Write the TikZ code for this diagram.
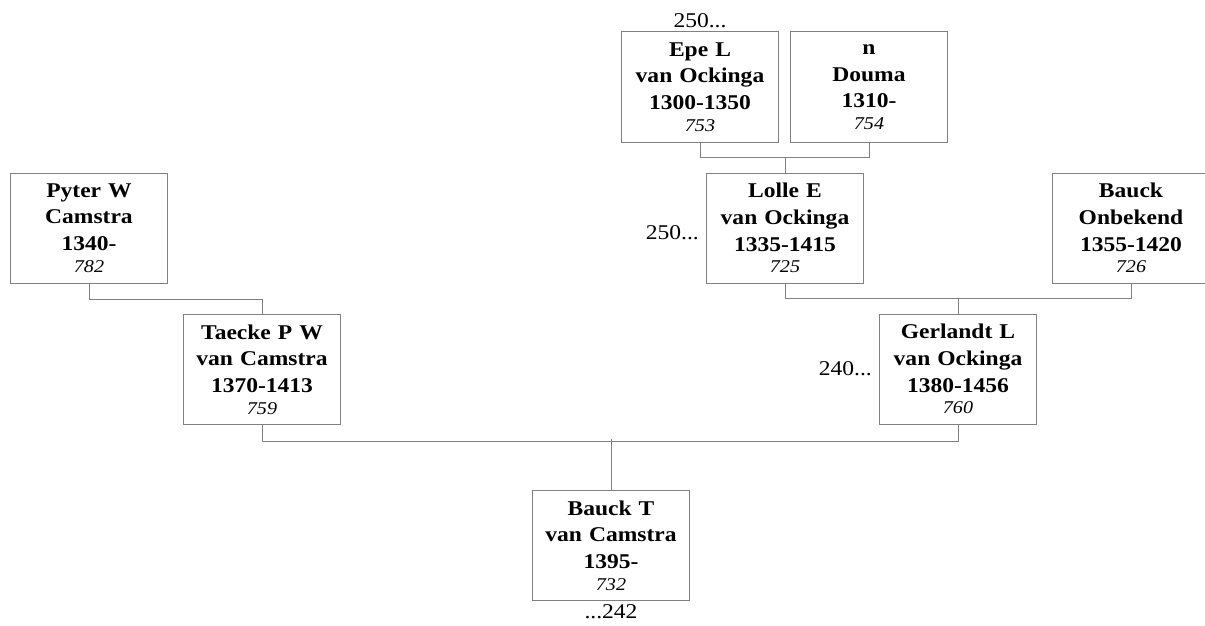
\documentclass[tikz,border=0pt]{standalone}
\usepackage{fontspec}
\setmainfont[FakeStretch=1.12]{Liberation Serif}
\usetikzlibrary{positioning}
\definecolor{LineGray}{RGB}{128,128,128}
\tikzset{
  person/.style={draw=LineGray,line width=1pt,fill=white,minimum width=157pt,
    minimum height=110pt,text width=155pt,align=center,inner sep=0pt,
    font=\fontsize{21}{26.7}\selectfont\bfseries},
  link/.style={draw=LineGray,line width=1pt},
  more/.style={font=\fontsize{21}{24}\selectfont,inner sep=0pt}
}
\newcommand{\pnum}[1]{\\[-5pt]{\fontsize{18}{21}\selectfont\mdseries\itshape #1}}

\begin{document}
\begin{tikzpicture}[x=1pt,y=-1pt]
  \useasboundingbox (0,0) rectangle (1205,626);
  % oldest generation
  \node[person] (epe) at (700,87) {Epe L\\van Ockinga\\1300-1350\pnum{753}};
  \node[person] (douma) at (869,87) {n\\Douma\\1310-\pnum{754}};
  % parents' generation
  \node[person] (pyter) at (89,228) {Pyter W\\Camstra\\1340-\pnum{782}};
  \node[person] (lolle) at (785,228) {Lolle E\\van Ockinga\\1335-1415\pnum{725}};
  \node[person] (onbekend) at (1131,228) {Bauck\\Onbekend\\1355-1420\pnum{726}};
  % parents
  \node[person] (taecke) at (262,369.5) {Taecke P W\\van Camstra\\1370-1413\pnum{759}};
  \node[person] (gerlandt) at (958,369) {Gerlandt L\\van Ockinga\\1380-1456\pnum{760}};
  % child
  \node[person] (bauck) at (611,545.5) {Bauck T\\van Camstra\\1395-\pnum{732}};
  % continuation numbers
  \node[more,above=4pt of epe] (epeup) {250...};
  \node[more,left=7pt of lolle,yshift=-5pt] (lolleup) {250...};
  \node[more,left=7pt of gerlandt] (gerlandtup) {240...};
  \node[more,below=3pt of bauck] (bauckdown) {...242};
  % connectors
  \draw[link] (epe.south) -- ++(0,15) -| (douma.south);
  \draw[link] (lolle.north) -- ++(0,-16);
  \draw[link] (pyter.south) -- ++(0,16) -| (taecke.north);
  \draw[link] (lolle.south) -- ++(0,15) -| (onbekend.south);
  \draw[link] (gerlandt.north) -- ++(0,-16);
  \draw[link] (taecke.south) -- ++(0,16) -| (gerlandt.south);
  \draw[link] (bauck.north) -- ++(0,-51);
\end{tikzpicture}
\end{document}
